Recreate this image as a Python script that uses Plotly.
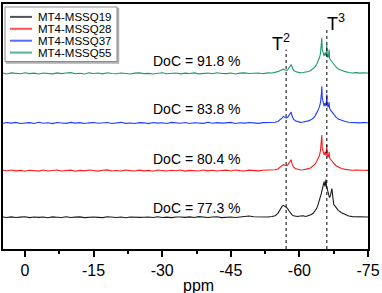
import plotly.graph_objects as go

# ---------------- data ----------------
series_names = ["MT4-MSSQ19", "MT4-MSSQ28", "MT4-MSSQ37", "MT4-MSSQ55"]
series_colors = ["#1a1a1a", "#ff1a1a", "#1f3cff", "#1e9a6e"]
doc_labels = ["DoC = 77.3 %", "DoC = 80.4 %", "DoC = 83.8 %", "DoC = 91.8 %"]
offsets = [32, 79, 127, 177]
doc_y = [41, 91, 141, 190]

# chemical shift grid (ppm): baseline part and peak part
ppm_base = [4.8] + [float(v) for v in [4, 3, 2, 1, 0, -1, -2, -3, -4, -5, -6, -7, -8, -9, -10,
                                        -11, -12, -13, -14, -15, -16, -17, -18, -19, -20,
                                        -21, -22, -23, -24, -25, -26, -27, -28, -29, -30,
                                        -31, -32, -33, -34, -35, -36, -37, -38, -39, -40,
                                        -41, -42, -43, -44, -45, -46, -47, -48, -49, -50,
                                        -51, -52, -53]]
ppm_peak = [-54, -54.7, -55.3, -55.8, -56.2, -56.5, -56.8, -57.1, -57.4, -57.7,
            -58.0, -58.2, -58.4, -58.7, -59.1, -59.6, -60.2, -60.8, -61.4, -62.0,
            -62.5, -63.0, -63.4, -63.8, -64.1, -64.4, -64.6, -64.8, -64.9, -65.0,
            -65.2, -65.4, -65.6, -65.8, -65.9, -66.0, -66.1, -66.3, -66.5, -66.6,
            -66.8, -67.1, -67.5, -68.0, -68.5, -69.2, -70.0, -70.8, -71.6, -72.4,
            -73.2, -74.0, -75.0]

base_19 = [0.3, -0.2, 0.4, -0.3, 0.1, 0.5, -0.4, 0.2, -0.1, 0.3,
           -0.5, 0.4, 0.0, -0.3, 0.5, -0.2, 0.1, 0.4, -0.4, 0.2,
           0.3, -0.1, -0.4, 0.5, 0.1, -0.2, 0.3, -0.5, 0.2, 0.4,
           -0.1, 0.0, 0.3, -0.3, 0.5, -0.2, 0.1, -0.4, 0.3, 0.2,
           -0.1, 0.4, -0.3, 0.6, 0.0, -0.2, 0.3, 0.5, -0.4, 0.1,
           0.2, -0.3, 0.4, 0.8, 1.2, 0.5, 0.2, -0.1, 0.3]
peak_19 = [0.8, 1.5, 4.0, 8.0, 11.0, 12.0, 11.0, 10.5, 9.0, 6.5,
           4.5, 3.2, 2.4, 1.6, 1.0, 0.7, 1.2, 1.5, 0.8, 1.5,
           2.5, 4.0, 6.5, 9.0, 13.0, 17.0, 20.5, 24.0, 26.0, 28.0,
           33.0, 36.0, 31.0, 38.0, 32.0, 30.0, 26.0, 24.0, 21.0, 20.0,
           22.0, 29.0, 13.0, 10.0, 7.0, 4.5, 2.5, 1.2, 0.6, 0.4,
           0.3, 0.5, 0.3]

base_28 = [0.5, -0.4, 0.7, -0.2, 0.3, -0.6, 0.4, 0.1, -0.5, 0.6,
           -0.3, 0.2, 0.7, -0.4, 0.0, 0.5, -0.6, 0.3, -0.2, 0.6,
           0.1, -0.5, 0.4, 0.8, -0.3, 0.2, -0.4, 0.6, 0.0, -0.3,
           0.5, -0.2, 0.3, -0.6, 0.7, 0.2, -0.4, 0.4, -0.1, 0.6,
           -0.5, 0.3, 0.1, -0.3, 0.6, -0.2, 0.4, -0.4, 0.2, 0.5,
           -0.3, 0.6, 0.0, -0.4, 0.5, 0.3, -0.2, 0.4, 0.6]
peak_28 = [0.4, 0.9, 1.7, 3.2, 5.0, 6.0, 5.4, 5.0, 5.5, 7.5,
           10.0, 11.0, 6.5, 3.8, 2.2, 1.2, 0.6, 0.9, 1.3, 2.0,
           3.0, 4.5, 6.5, 9.5, 12.0, 15.5, 20.0, 28.0, 36.0, 23.0,
           18.0, 16.0, 19.0, 15.5, 19.0, 26.0, 15.0, 13.5, 19.0, 13.0,
           11.5, 9.5, 7.5, 5.0, 3.5, 2.2, 1.3, 0.7, 0.4, 0.6,
           0.2, 0.4, 0.3]

base_37 = [-0.3, 0.5, -0.1, 0.6, -0.5, 0.2, 0.4, -0.4, 0.7, -0.2,
           0.3, -0.6, 0.5, 0.1, -0.3, 0.6, -0.1, 0.4, -0.5, 0.2,
           0.6, -0.2, 0.0, 0.5, -0.4, 0.3, 0.7, -0.3, 0.1, -0.5,
           0.4, 0.2, -0.6, 0.5, -0.1, 0.3, -0.4, 0.6, 0.0, -0.2,
           0.5, -0.5, 0.3, 0.1, -0.3, 0.7, -0.2, 0.4, -0.1, 0.2,
           0.6, -0.4, 0.3, -0.1, 0.5, 0.2, -0.3, 0.4, 0.7]
peak_37 = [0.3, 0.8, 1.6, 3.0, 5.0, 6.6, 6.0, 5.2, 5.6, 7.5,
           10.0, 11.0, 7.0, 4.0, 2.3, 1.3, 0.7, 1.0, 1.4, 2.2,
           3.2, 4.8, 7.0, 10.0, 13.0, 16.5, 20.5, 29.0, 37.0, 25.0,
           19.0, 17.0, 20.0, 17.0, 22.0, 29.0, 18.0, 16.0, 21.0, 15.0,
           13.0, 11.0, 8.5, 6.0, 4.0, 2.6, 1.5, 0.8, 0.4, 0.7,
           0.2, 0.5, 0.3]

base_55 = [0.4, -0.5, 0.6, 0.0, -0.3, 0.7, -0.2, 0.3, -0.6, 0.5,
           0.1, -0.4, 0.6, -0.2, 0.4, 0.8, -0.3, 0.2, -0.5, 0.6,
           -0.1, 0.4, -0.4, 0.7, 0.0, -0.3, 0.5, 0.2, -0.5, 0.3,
           0.6, -0.2, 0.1, -0.5, 0.4, 0.7, -0.3, 0.2, 0.5, -0.4,
           0.3, -0.1, 0.6, -0.4, 0.2, 0.5, -0.3, 0.7, 0.0, -0.2,
           0.4, -0.5, 0.3, 0.6, -0.1, 0.2, 0.5, -0.3, 0.6]
peak_55 = [0.5, 0.9, 1.8, 3.0, 4.0, 4.3, 3.6, 3.0, 3.4, 5.0,
           7.5, 9.0, 5.5, 3.2, 2.0, 1.2, 0.6, 0.9, 1.2, 2.0,
           3.0, 4.5, 6.5, 9.5, 12.5, 16.0, 20.0, 28.0, 36.0, 24.0,
           19.0, 17.5, 21.0, 18.0, 22.0, 29.0, 17.0, 16.0, 24.0, 15.0,
           13.5, 11.5, 9.0, 6.5, 4.5, 3.0, 1.8, 1.0, 0.5, 0.8,
           0.3, 0.6, 0.4]

base_values = [base_19, base_28, base_37, base_55]
peak_values = [peak_19, peak_28, peak_37, peak_55]

ref_ppm = [-57.1, -66.0]
ref_top = [201, 222]
ref_labels = ["T<sup>2</sup>", "T<sup>3</sup>"]
ref_label_x = [-55.9, -67.9]
ref_label_y = [208, 228]

x_ticks = [0, -15, -30, -45, -60, -75]
x_minor = [-7.5, -22.5, -37.5, -52.5, -67.5]

# ---------------- figure ----------------
W, H = 382, 293
ML, MR, MT, MB = 3, 14, 2, 44
PW, PH = W - ML - MR, H - MT - MB

def px(xp):
    return (xp - ML) / PW

def py(yp):
    return (H - MB - yp) / PH

FONT = "Liberation Sans, Arial, sans-serif"

fig = go.Figure()
ppm_all = ppm_base + ppm_peak
for name, col, off, b, p in zip(series_names, series_colors, offsets, base_values, peak_values):
    vals = b + p
    fig.add_trace(go.Scatter(x=ppm_all, y=[off + v for v in vals], mode="lines",
                             line=dict(color=col, width=1.1), name=name, showlegend=False,
                             hoverinfo="skip"))

annotations = []
shapes = []

# DoC labels
for lab, yv in zip(doc_labels, doc_y):
    annotations.append(dict(x=-27.55, y=yv, xref="x", yref="y", text=lab,
                            showarrow=False, xanchor="left", yanchor="middle",
                            font=dict(family=FONT, size=14, color="black")))

# reference lines T2, T3
for xv, top, lab, lx, ly in zip(ref_ppm, ref_top, ref_labels, ref_label_x, ref_label_y):
    shapes.append(dict(type="line", xref="x", yref="y", x0=xv, x1=xv, y0=0, y1=top,
                       line=dict(color="black", width=1, dash="dot")))
    annotations.append(dict(x=lx, y=ly, xref="x", yref="y", text=lab, showarrow=False,
                            xanchor="center", yanchor="middle",
                            font=dict(family=FONT, size=18, color="black")))

# x axis title
annotations.append(dict(x=px(198), y=py(286), xref="paper", yref="paper", text="ppm",
                        showarrow=False, xanchor="center", yanchor="middle",
                        font=dict(family=FONT, size=16, color="black")))

# manual legend
shapes.append(dict(type="rect", xref="paper", yref="paper", x0=px(6.5), x1=px(118.5),
                   y0=py(61.5), y1=py(6.5), line=dict(color="#b0b0b0", width=1.5),
                   fillcolor="#b0b0b0", layer="above"))
shapes.append(dict(type="rect", xref="paper", yref="paper", x0=px(5), x1=px(117),
                   y0=py(60), y1=py(5), line=dict(color="#8a8a8a", width=1),
                   fillcolor="white", layer="above"))
for i, (name, col) in enumerate(zip(series_names, series_colors)):
    yr = 15 + 12 * i
    shapes.append(dict(type="line", xref="paper", yref="paper", x0=px(10), x1=px(32),
                       y0=py(yr), y1=py(yr), line=dict(color=col, width=2), opacity=0.75,
                       layer="above"))
    annotations.append(dict(x=px(36), y=py(yr), xref="paper", yref="paper", text=name,
                            showarrow=False, xanchor="left", yanchor="middle",
                            font=dict(family=FONT, size=11.5, color="black")))

fig.update_layout(
    width=W, height=H,
    margin=dict(l=ML, r=MR, t=MT, b=MB, pad=0),
    paper_bgcolor="white", plot_bgcolor="white",
    showlegend=False,
    annotations=annotations, shapes=shapes,
    xaxis=dict(range=[4.81, -75], tickvals=x_ticks, ticktext=[str(v) for v in x_ticks],
               ticks="outside", ticklen=6, tickwidth=1.5, tickcolor="black",
               minor=dict(tickvals=x_minor, ticks="outside", ticklen=3.5, tickwidth=1.5,
                          tickcolor="black"),
               showline=True, linewidth=1.5, linecolor="black", mirror=True,
               showgrid=False, zeroline=False,
               tickfont=dict(family=FONT, size=16, color="black")),
    yaxis=dict(range=[0, PH], showticklabels=False, ticks="", showline=True,
               linewidth=1.5, linecolor="black", mirror=True, showgrid=False,
               zeroline=False),
)

fig.write_html("out.html", config={"displayModeBar": False},
               post_script="document.body.style.margin='0';document.body.style.padding='0';"
                           "document.body.style.overflow='hidden';")
